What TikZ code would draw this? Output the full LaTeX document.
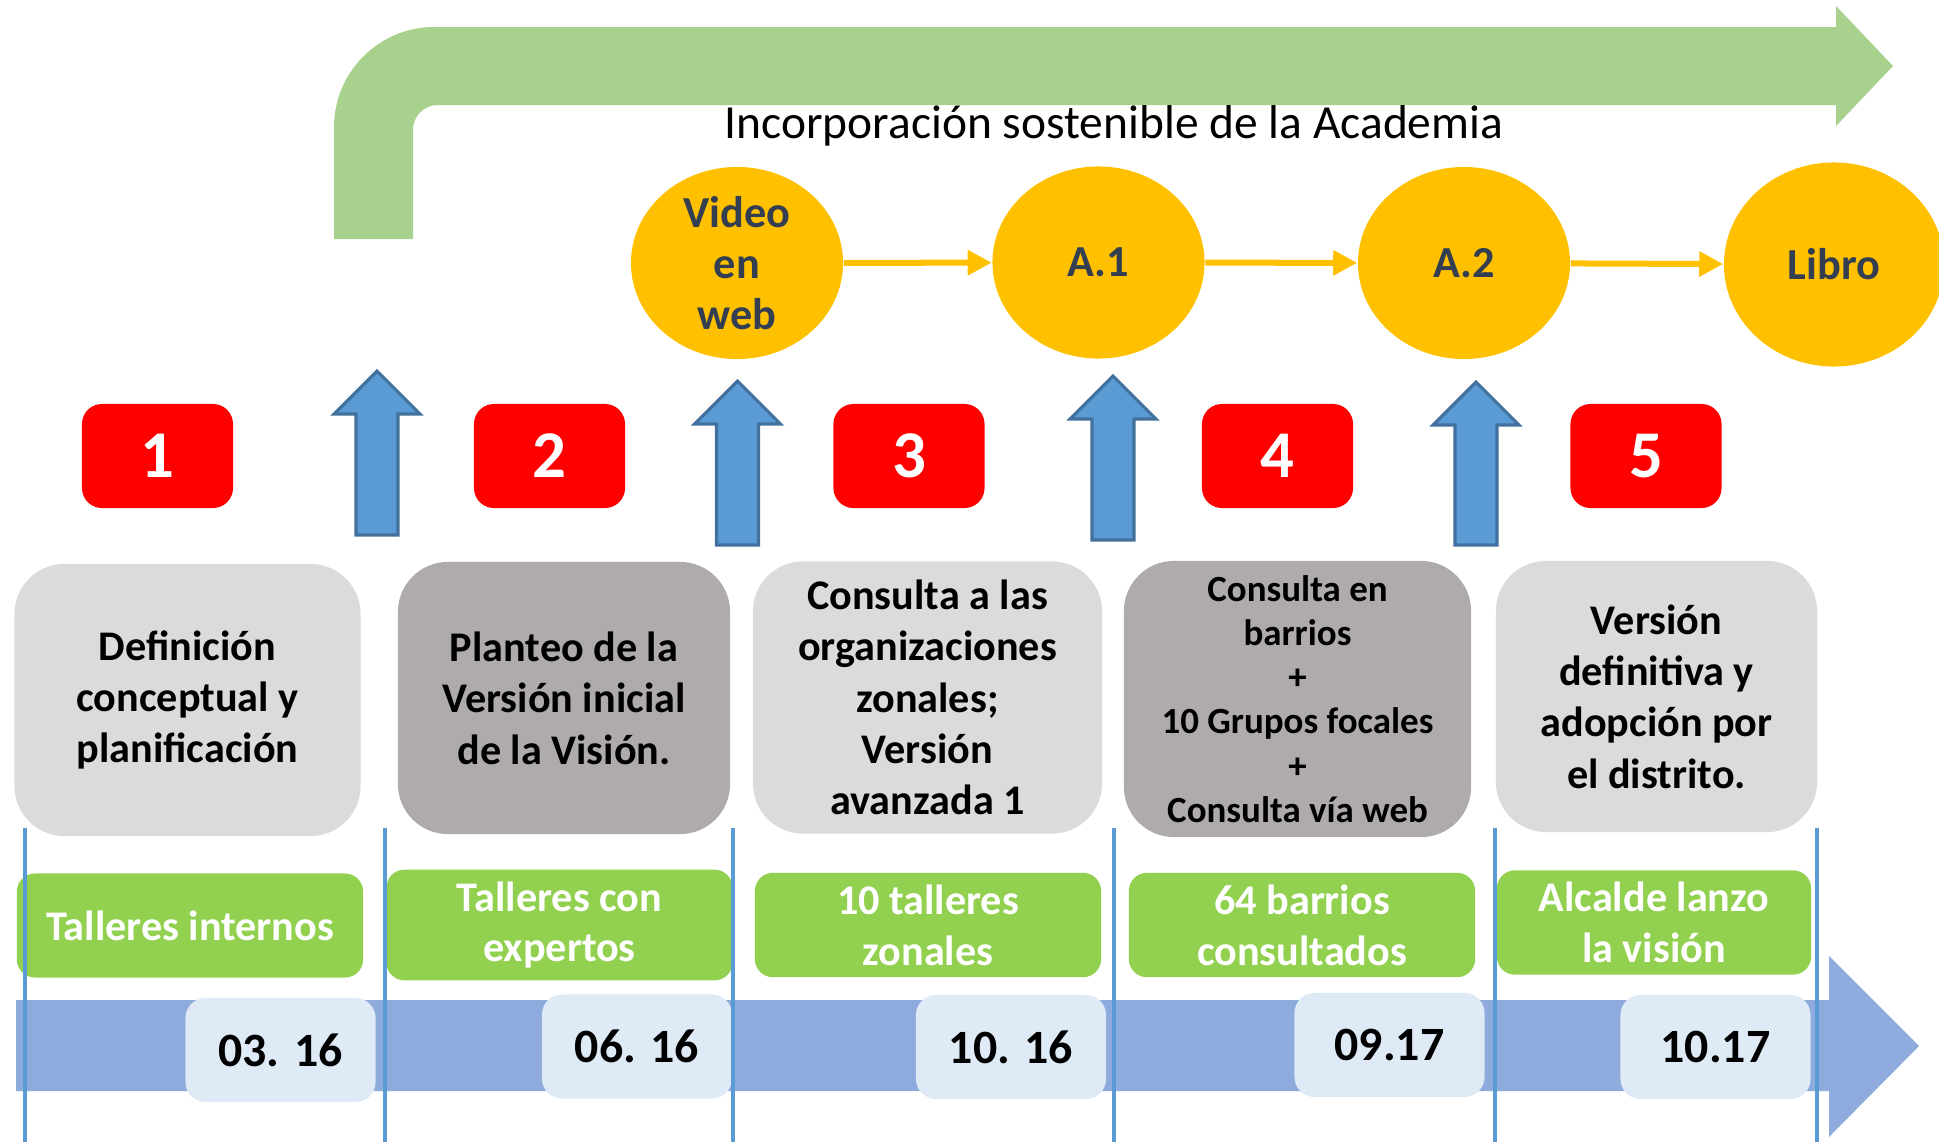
\documentclass[tikz,border=0pt]{standalone}
\usepackage{fontspec}
\setmainfont{Carlito}
\usetikzlibrary{shapes.geometric,arrows.meta}
\definecolor{bentgreen}{HTML}{A9D18E}
\definecolor{academiaorange}{HTML}{FFC000}
\definecolor{slate}{HTML}{333F50}
\definecolor{phasered}{HTML}{FF0000}
\definecolor{arrowblue}{HTML}{5B9BD5}
\definecolor{arrowedge}{HTML}{41719C}
\definecolor{lightgray}{HTML}{DBDBDB}
\definecolor{darkgray}{HTML}{AFABAB}
\definecolor{actgreen}{HTML}{92D050}
\definecolor{timeblue}{HTML}{8FAADC}
\definecolor{datebg}{HTML}{DEEBF7}
\tikzset{
  bubble/.style={ellipse, fill=academiaorange, minimum width=2.12cm, minimum height=1.92cm, inner sep=0pt},
  bubbletext/.style={align=center, text=slate, font=\bfseries\fontsize{12.6}{14.6}\selectfont},
  flow/.style={-{Triangle[length=0.24cm,width=0.24cm]}, draw=academiaorange, line width=0.06cm},
  phase/.style={rounded corners=0.2cm, fill=phasered, text=white, minimum width=1.51cm, minimum height=1.04cm, font=\bfseries\fontsize{19}{22}\selectfont},
  stage/.style={rounded corners=0.5cm, align=center, minimum height=2.72cm, font=\bfseries\fontsize{12}{14.6}\selectfont},
  activity/.style={rounded corners=0.18cm, fill=actgreen, text=white, align=center, minimum width=3.46cm, minimum height=1.04cm, font=\bfseries\fontsize{12}{14.5}\selectfont},
  datebox/.style={rounded corners=0.2cm, fill=datebg, minimum width=1.9cm, minimum height=1.04cm, font=\bfseries\fontsize{13.6}{16}\selectfont},
  uparrow/.style={fill=arrowblue, draw=arrowedge, line width=0.9pt},
  divider/.style={draw=arrowblue, line width=0.04cm}
}
\begin{document}
\begin{tikzpicture}[x=0.01cm, y=-0.01cm]
  \useasboundingbox (0,0) rectangle (1939,1142);
  % bent arrow on top
  \fill[bentgreen] (334,239) -- (334,127) .. controls (334,72) and (379,27) .. (434,27)
    -- (1836,27) -- (1836,6) -- (1893,66) -- (1836,126) -- (1836,105) -- (438,105)
    .. controls (424,105) and (413,116) .. (413,130) -- (413,239) -- cycle;
  \node[anchor=base, font=\fontsize{13.5}{16}\selectfont] (title) at (1114,138) {Incorporación sostenible de la Academia};
  % outputs
  \node[bubble] (video) at (737,263) {};
  \node[bubbletext] (video-t) at (video) {Video\\en\\web};
  \node[bubble] (a1) at (1098.5,262.5) {};
  \node[bubbletext] (a1-t) at (a1) {A.1};
  \node[bubble] (a2) at (1464,263) {};
  \node[bubbletext] (a2-t) at (a2) {A.2};
  \node[bubble, minimum width=2.2cm, minimum height=2.04cm] (libro) at (1834,264.5) {};
  \node[bubbletext] (libro-t) at (libro) {Libro};
  \draw[flow] (video) -- (a1);
  \draw[flow] (a1) -- (a2);
  \draw[flow] (a2) -- (libro);
  % phase numbers
  \node[phase] (p1) at (157.5,456) {1};
  \node[phase] (p2) at (549.5,456) {2};
  \node[phase] (p3) at (909,456) {3};
  \node[phase] (p4) at (1277.5,456) {4};
  \node[phase] (p5) at (1646,456) {5};
  % blue arrows
  \foreach \cx/\tip/\bot in {377/371/535, 737.5/381/545, 1113/376/540, 1476/382/545}
    \draw[uparrow] (\cx-21,\bot) -- (\cx-21,\tip+43) -- (\cx-43,\tip+43) -- (\cx,\tip)
      -- (\cx+43,\tip+43) -- (\cx+21,\tip+43) -- (\cx+21,\bot) -- cycle;
  % stages
  \node[stage, fill=lightgray, minimum width=3.46cm] (s1) at (187.5,700) {Definición\\conceptual y\\planificación};
  \node[stage, fill=darkgray, minimum width=3.32cm] (s2) at (564,698) {Planteo de la\\Versión inicial\\de la Visión.};
  \node[stage, fill=lightgray, minimum width=3.49cm] (s3) at (927.5,697.5) {Consulta a las\\organizaciones\\zonales;\\Versión\\avanzada 1};
  \node[stage, fill=darkgray, minimum width=3.47cm, minimum height=2.76cm, font=\bfseries\fontsize{10.5}{12.6}\selectfont] (s4) at (1297.5,699) {Consulta en\\barrios\\+\\10 Grupos focales\\+\\Consulta vía web};
  \node[stage, fill=lightgray, minimum width=3.21cm, minimum height=2.71cm] (s5) at (1656.5,696.5) {Versión\\definitiva y\\adopción por\\el distrito.};
  % timeline
  \fill[timeblue] (16,1000) -- (1829,1000) -- (1829,956) -- (1919,1046) -- (1829,1137) -- (1829,1091) -- (16,1091) -- cycle;
  \node[datebox] (d1) at (280.5,1050) {03. 16};
  \node[datebox] (d2) at (637,1046.5) {06. 16};
  \node[datebox] (d3) at (1011,1047) {10. 16};
  \node[datebox] (d4) at (1389.5,1045) {09.17};
  \node[datebox] (d5) at (1715.5,1047) {10.17};
  % activities
  \node[activity] (g1) at (190,925.5) {Talleres internos};
  \node[activity] (g2) at (559.5,925) {Talleres con\\expertos};
  \node[activity] (g3) at (928,925) {10 talleres\\zonales};
  \node[activity] (g4) at (1302,925) {64 barrios\\consultados};
  \node[activity, minimum width=3.14cm] (g5) at (1654,922.5) {Alcalde lanzo\\la visión};
  % dividers
  \foreach \x in {25, 384.5, 733, 1114, 1495, 1817}
    \draw[divider] (\x,828) -- (\x,1142);
\end{tikzpicture}
\end{document}
